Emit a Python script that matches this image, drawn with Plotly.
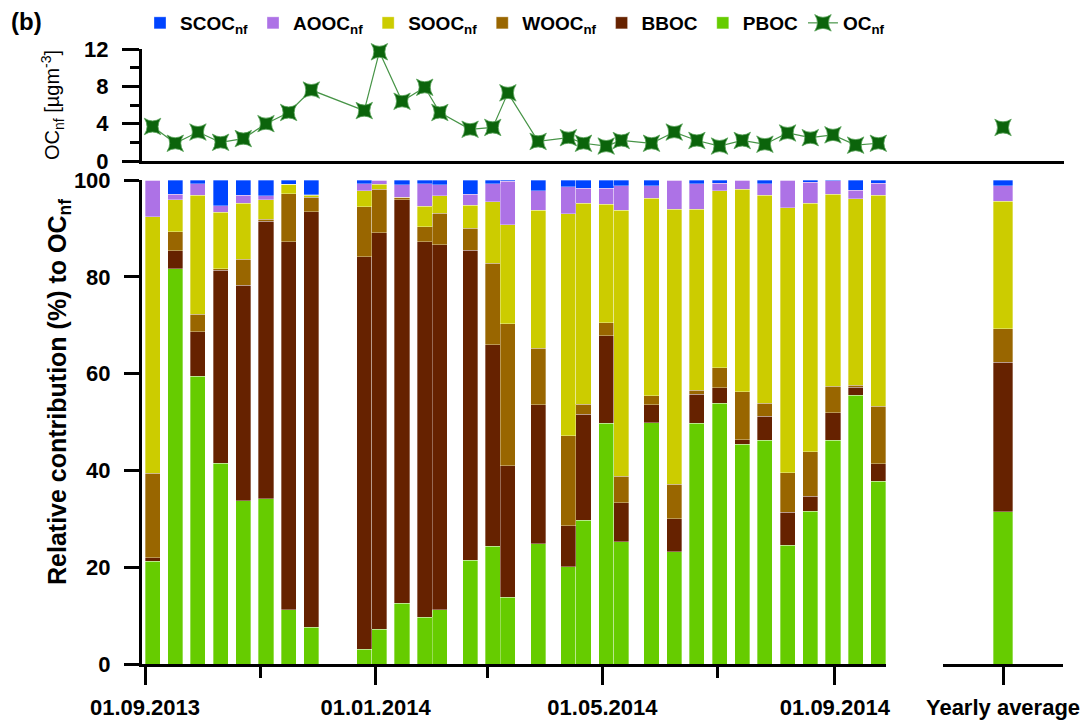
import plotly.graph_objects as go
import pandas as pd

# ---------------- data ----------------
dates = ["2013-09-05", "2013-09-17", "2013-09-29", "2013-10-11", "2013-10-23",
         "2013-11-04", "2013-11-16", "2013-11-28", "2013-12-26", "2014-01-03",
         "2014-01-15", "2014-01-27", "2014-02-04", "2014-02-20", "2014-03-04",
         "2014-03-12", "2014-03-28", "2014-04-13", "2014-04-21", "2014-05-03",
         "2014-05-11", "2014-05-27", "2014-06-08", "2014-06-20", "2014-07-02",
         "2014-07-14", "2014-07-26", "2014-08-07", "2014-08-19", "2014-08-31",
         "2014-09-12", "2014-09-24"]

PBOC = [21.2, 81.7, 59.5, 41.5, 33.7, 34.1, 11.2, 7.6, 3.1, 7.2, 12.6, 9.7, 11.2, 21.4, 24.3, 13.8,
        24.8, 20.1, 29.7, 49.7, 25.3, 49.8, 23.2, 49.7, 53.9, 45.4, 46.2, 24.5, 31.6, 46.2, 55.5, 37.8]
BBOC = [0.8, 3.7, 9.1, 39.9, 44.6, 57.4, 76.0, 85.8, 81.0, 81.9, 83.3, 77.5, 75.4, 64.1, 41.7, 27.2,
        28.8, 8.5, 21.9, 18.1, 8.0, 3.8, 6.8, 6.0, 3.2, 0.9, 5.0, 6.9, 3.1, 5.7, 1.7, 3.6]
WOOC = [17.4, 3.9, 3.7, 0.3, 5.3, 0.4, 10.0, 3.0, 10.4, 9.0, 0.5, 3.1, 6.5, 4.5, 16.8, 29.3,
        11.6, 18.6, 2.1, 2.7, 5.5, 1.8, 7.1, 0.9, 4.1, 9.9, 2.7, 8.1, 9.2, 5.5, 0.4, 11.9]
SOOC = [53.0, 6.6, 24.5, 11.6, 11.6, 4.0, 1.9, 0.5, 3.3, 1.0, 0.0, 4.3, 3.6, 4.8, 12.7, 20.5,
        28.6, 45.8, 41.5, 24.5, 55.0, 40.8, 56.9, 37.4, 36.6, 41.9, 43.0, 54.8, 51.3, 39.7, 38.5, 43.6]
AOOC = [7.5, 1.2, 2.4, 1.4, 1.7, 0.8, 0.0, 0.1, 1.4, 0.8, 2.6, 4.6, 2.3, 2.3, 3.7, 8.9,
        4.0, 5.6, 3.1, 3.3, 5.0, 2.6, 5.9, 5.2, 1.5, 1.8, 2.3, 5.6, 4.3, 2.7, 1.8, 2.4]
SCOC = [0.1, 2.9, 0.8, 5.3, 3.1, 3.3, 0.9, 3.0, 0.8, 0.1, 1.0, 0.8, 1.0, 2.9, 0.8, 0.3,
        2.2, 1.4, 1.7, 1.7, 1.2, 1.2, 0.1, 0.8, 0.7, 0.1, 0.8, 0.1, 0.5, 0.2, 2.1, 0.7]
OC = [3.7, 1.9, 3.1, 2.0, 2.4, 4.0, 5.2, 7.6, 5.4, 11.7, 6.4, 7.9, 5.2, 3.4, 3.6, 7.3,
      2.1, 2.5, 1.9, 1.6, 2.2, 1.9, 3.1, 2.2, 1.6, 2.2, 1.8, 3.0, 2.5, 2.8, 1.7, 1.9]

yearly_label = ["Yearly average"]
PBOC_year = [31.5]
BBOC_year = [30.8]
WOOC_year = [7.0]
SOOC_year = [26.3]
AOOC_year = [3.2]
SCOC_year = [1.2]
OC_year = [3.6]

major_tick_dates = ["2013-09-01", "2014-01-01", "2014-05-01", "2014-09-01"]
major_tick_text = ["01.09.2013", "01.01.2014", "01.05.2014", "01.09.2014"]
minor_tick_dates = ["2013-11-01", "2014-03-01", "2014-07-01"]

# ---------------- layout helpers ----------------
W, H = 1089, 722
FONT = "Liberation Sans, Arial, sans-serif"
ORIGIN = pd.Timestamp("2013-09-01")
PX_ORIGIN = 145.0
PX_PER_DAY = 1.89


def px_date(px):
    return (ORIGIN + pd.Timedelta(days=(px - PX_ORIGIN) / PX_PER_DAY)).strftime("%Y-%m-%d %H:%M:%S")


def fx(px):
    return px / W


def fy(py):
    return 1 - py / H


BAR_WIDTH_MS = 8 * 86400000

components = [
    ("PBOC", "<b>PBOC</b>", "#66CC00", PBOC, PBOC_year, 6),
    ("BBOC", "<b>BBOC</b>", "#662200", BBOC, BBOC_year, 5),
    ("WOOC", "<b>WOOC<sub>nf</sub></b>", "#996600", WOOC, WOOC_year, 4),
    ("SOOC", "<b>SOOC<sub>nf</sub></b>", "#CCCC00", SOOC, SOOC_year, 3),
    ("AOOC", "<b>AOOC<sub>nf</sub></b>", "#AD72E6", AOOC, AOOC_year, 2),
    ("SCOC", "<b>SCOC<sub>nf</sub></b>", "#0044FF", SCOC, SCOC_year, 1),
]

fig = go.Figure()
edge = dict(width=0.6, color="rgba(255,255,255,0.55)")
for key, name, color, vals, yvals, rank in components:
    fig.add_trace(go.Bar(x=dates, y=vals, name=name, marker=dict(color=color, line=edge),
                         width=BAR_WIDTH_MS, xaxis="x", yaxis="y", legendgroup=key,
                         legendrank=rank))
    fig.add_trace(go.Bar(x=yearly_label, y=yvals, name=name, marker=dict(color=color, line=edge),
                         width=0.16, xaxis="x3", yaxis="y", legendgroup=key, showlegend=False))

oc_marker = dict(symbol="star-square", size=15, color="#0B640B",
                 line=dict(width=0.8, color="#5AA55A"))
fig.add_trace(go.Scatter(x=dates, y=OC, mode="lines+markers", name="<b>OC<sub>nf</sub></b>",
                         line=dict(color="#479447", width=1.2), marker=oc_marker,
                         xaxis="x2", yaxis="y2", cliponaxis=False, legendrank=7))
fig.add_trace(go.Scatter(x=yearly_label, y=OC_year, mode="markers", marker=oc_marker,
                         xaxis="x4", yaxis="y2", showlegend=False, cliponaxis=False))

tickfont = dict(family=FONT, size=22, color="black", weight="bold")
axis_common = dict(showline=True, linewidth=3, linecolor="black", showgrid=False,
                   zeroline=False, ticks="outside", tickwidth=3, tickcolor="black",
                   automargin=False)

fig.update_layout(
    width=W, height=H,
    margin=dict(l=0, r=0, t=0, b=0, autoexpand=False),
    paper_bgcolor="white", plot_bgcolor="white",
    barmode="stack",
    font=dict(family=FONT, color="black"),
    showlegend=True,
    legend=dict(orientation="h", x=fx(140), y=fy(4), xanchor="left", yanchor="top",
                font=dict(family=FONT, size=19, color="black"), bgcolor="rgba(0,0,0,0)",
                itemwidth=30, tracegroupgap=0),
    xaxis=dict(domain=[fx(142), fx(886)], anchor="y", type="date",
               range=[px_date(142), px_date(886)],
               tickmode="array", tickvals=major_tick_dates, ticktext=major_tick_text,
               ticklen=18, tickfont=tickfont, ticklabelstandoff=4,
               minor=dict(tickvals=minor_tick_dates, ticks="outside", ticklen=11,
                          tickwidth=3, tickcolor="black"),
               **axis_common),
    yaxis=dict(domain=[fy(664), fy(180)], anchor="x", range=[0, 100],
               tickmode="linear", tick0=0, dtick=20, ticklen=15, tickfont=tickfont,
               ticklabelstandoff=9, **axis_common),
    xaxis3=dict(domain=[fx(943), fx(1063)], anchor="y", type="category",
                range=[-0.5, 0.5], ticklen=18, tickfont=tickfont, ticklabelstandoff=4,
                **axis_common),
    xaxis2=dict(domain=[fx(142), fx(1064)], anchor="y2", type="date",
                range=[px_date(142), px_date(1064)], showticklabels=False,
                showline=True, linewidth=3, linecolor="black", showgrid=False,
                zeroline=False, ticks=""),
    xaxis4=dict(domain=[fx(943), fx(1063)], anchor="y2", type="category",
                range=[-0.5, 0.5], visible=False),
    yaxis2=dict(domain=[fy(161), fy(49)], anchor="x2", range=[0, 12],
                tickmode="linear", tick0=0, dtick=4, ticklen=17, tickfont=tickfont,
                ticklabelstandoff=9,
                minor=dict(dtick=2, ticks="outside", ticklen=9, tickwidth=3, tickcolor="black"),
                **axis_common),
    annotations=[
        dict(text="<b>(b)</b>", x=fx(9), y=fy(21), xref="paper", yref="paper",
             xanchor="left", yanchor="middle", showarrow=False,
             font=dict(family=FONT, size=24, color="black")),
        dict(text="<b>Relative contribution (%) to OC<sub>nf</sub></b>", x=fx(59), y=fy(392),
             xref="paper", yref="paper", textangle=-90, xanchor="center", yanchor="middle",
             showarrow=False, font=dict(family=FONT, size=25, color="black")),
        dict(text="OC<sub>nf</sub> [µgm<sup>-3</sup>]", x=fx(52), y=fy(105),
             xref="paper", yref="paper", textangle=-90, xanchor="center", yanchor="middle",
             showarrow=False, font=dict(family=FONT, size=20, color="black")),
    ],
)

fig.write_html("out.html", config={"displayModeBar": False},
               post_script="document.body.style.margin='0';document.body.style.overflow='hidden';")
